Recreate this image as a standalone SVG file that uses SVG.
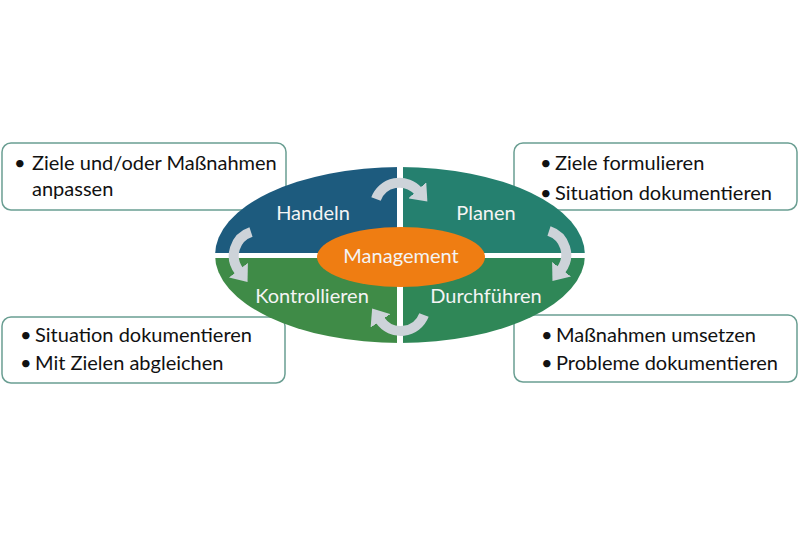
<svg xmlns="http://www.w3.org/2000/svg" width="800" height="533" viewBox="0 0 800 533">
<style>
.box{fill:#fff;stroke:#6a9e92;stroke-width:1.5}
.bt{font-family:Lato,"Liberation Sans",sans-serif;font-size:20px;fill:#111}
.qt{font-family:Lato,"Liberation Sans",sans-serif;font-size:20px;fill:#f4f4f4;text-anchor:middle}
.arr{fill:none;stroke:#cdd3d9;stroke-width:10}
</style>
<defs>
<clipPath id="ell"><ellipse cx="400" cy="255" rx="185" ry="88"/></clipPath>
<marker id="ah" markerUnits="userSpaceOnUse" markerWidth="20" markerHeight="24" refX="1" refY="12" orient="auto" viewBox="0 0 20 24">
<path d="M0,0 L15,12 L0,24 z" fill="#cdd3d9"/>
</marker>
</defs>
<rect width="800" height="533" fill="#fff"/>
<g id="box-handeln">
<rect class="box" x="2" y="143" width="284" height="67" rx="9"/>
<text class="bt"><tspan x="14" y="170">•</tspan><tspan x="32" y="170">Ziele und/oder Maßnahmen</tspan><tspan x="32" y="196">anpassen</tspan></text>
</g>
<g id="box-planen">
<rect class="box" x="514" y="143" width="283" height="67" rx="9"/>
<text class="bt"><tspan x="540" y="170">•</tspan><tspan x="555" y="170">Ziele formulieren</tspan><tspan x="540" y="200">•</tspan><tspan x="555" y="200">Situation dokumentieren</tspan></text>
</g>
<g id="box-kontrollieren">
<rect class="box" x="2" y="317" width="283" height="66" rx="9"/>
<text class="bt"><tspan x="20" y="342">•</tspan><tspan x="35" y="342">Situation dokumentieren</tspan><tspan x="20" y="370">•</tspan><tspan x="35" y="370">Mit Zielen abgleichen</tspan></text>
</g>
<g id="box-durchfuehren">
<rect class="box" x="514" y="315" width="283" height="67" rx="9"/>
<text class="bt"><tspan x="541" y="342">•</tspan><tspan x="556" y="342">Maßnahmen umsetzen</tspan><tspan x="541" y="370">•</tspan><tspan x="556" y="370">Probleme dokumentieren</tspan></text>
</g>
<g clip-path="url(#ell)">
<g id="handeln"><rect x="200" y="150" width="197" height="103" fill="#1d5b7e"/></g>
<g id="planen"><rect x="403" y="150" width="197" height="103" fill="#25806f"/></g>
<g id="kontrollieren"><rect x="200" y="258" width="197" height="102" fill="#3f8b47"/></g>
<g id="durchfuehren"><rect x="403" y="258" width="197" height="102" fill="#2f8757"/></g>
</g>
<text class="qt" x="313" y="220">Handeln</text>
<text class="qt" x="486" y="220">Planen</text>
<text class="qt" x="312" y="303">Kontrollieren</text>
<text class="qt" x="486" y="303">Durchführen</text>
<g id="management">
<ellipse cx="401" cy="257" rx="84" ry="30" fill="#ef7d12"/>
<text class="qt" x="401" y="263">Management</text>
</g>
<g id="connectors">
<path class="arr" d="M376,199 A25,25 0 0 1 418,191" marker-end="url(#ah)"/>
<path class="arr" d="M549,231 A25,25 0 0 1 561,270" marker-end="url(#ah)"/>
<path class="arr" d="M424,315 A25,25 0 0 1 380,320" marker-end="url(#ah)"/>
<path class="arr" d="M251,232 A25,25 0 0 0 239,271" marker-end="url(#ah)"/>
</g>
</svg>
